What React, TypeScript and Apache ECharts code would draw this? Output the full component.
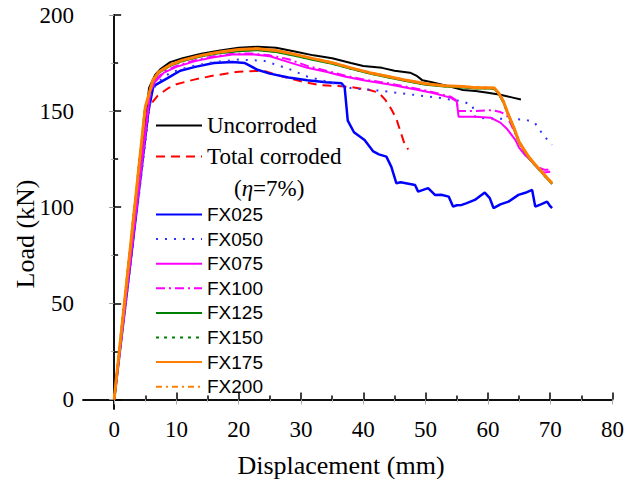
import React, { useEffect, useRef } from "react";
import * as echarts from "echarts";

const seriesNames = ["Uncorroded", "Total corroded", "FX025", "FX050", "FX075", "FX100", "FX125", "FX150", "FX175", "FX200"];
const xMajorTicks = [0, 10, 20, 30, 40, 50, 60, 70, 80];
const xMinorTicks = [5, 15, 25, 35, 45, 55, 65, 75];
const yMajorTicks = [0, 50, 100, 150, 200];
const yMinorTicks = [25, 75, 125, 175];

const uncorroded = [[0,0],[5.6,162],[6.6,169],[7.5,172],[9,175.5],[11,177.5],[14,179.8],[17,181.5],[20,183],[23,183.5],[26,183],[29,181],[32,179],[35,177.5],[38,175],[40,173.5],[43,172.5],[45,171],[47.5,170],[48.5,168.5],[49.5,166],[51,165],[53,163.5],[56,161],[58,160.5],[60,159.5],[62,158.5],[64,157],[65.3,156]];
const totalCorroded = [[0,0],[5.3,149],[6,154],[7,158],[8.7,162],[10,164],[13,166.5],[16,168.5],[20,170.5],[24,171],[27,168],[30,165.5],[33,163.5],[36,163],[38,162.5],[41,161],[42.5,159.5],[43.5,156],[44.5,151],[45.3,146],[46,139],[46.5,134],[47.2,130]];
const fx025 = [[0,0],[5.5,150],[6.3,163],[8.5,167],[10.6,171],[13,173],[16,175],[19,175.5],[21,175],[23,171.5],[25,169.5],[28,167.5],[31,166],[34,165],[36.5,164.5],[37,162.5],[37.5,145],[38.5,139],[40.2,135],[41.6,129],[42.5,127.5],[43.7,126.3],[44.5,121],[45.3,112.5],[46,113],[48.3,111.6],[48.8,108.1],[50.4,109.9],[51.5,106.4],[52.5,106.5],[53.7,105.5],[54.4,100.3],[55,101],[55.8,101.2],[56.5,102],[57.9,103.8],[59.5,107.6],[60.3,104.7],[60.9,99.5],[62,101.5],[63.3,102.9],[64.9,106.4],[66,107.5],[67.1,109],[67.6,100.3],[68.5,101.5],[69.5,102.9],[70,100.5],[70.3,99.5]];
const fx050 = [[0,0],[6,160],[7,165],[9,170],[12,173],[16,175.5],[20,176.8],[24,176.2],[28,172],[31,168],[34,165.5],[38,162],[43,160.5],[48,158.5],[52,157],[56,155],[57.5,153],[58,146.5],[62,146],[66,145.6],[67.5,144],[69,137],[70.3,132.5]];
const fx075 = [[0,0],[5.8,160],[6.5,165],[8,170],[10,173],[13,176],[16,178],[19,179.5],[22,179.6],[25,178.5],[28,175.5],[31,172.5],[34,170.5],[37,168],[40,166],[44,164],[48,161.5],[51,159.5],[54,157],[55,155],[55.3,147],[58,147],[60.5,146.5],[62,144],[63,141],[64.4,135],[65,131],[66,127],[67,124],[68.2,119.5],[69,118],[70,118.5]];
const fx100 = [[0,0],[5.8,161],[6.5,166],[8,170.5],[10,173.5],[13,176.5],[16,178.5],[19,179.8],[22,180],[25,179],[28,177],[31,173.5],[34,171],[37,168.5],[40,166.5],[44,164.5],[48,162],[51,160],[54,157.5],[55,155.5],[55.2,150],[58,150],[60.6,150.5],[62,149.5],[63,148],[64,141],[65,134],[66,128],[67,124],[68,121],[69,119.5],[70,119.5]];
const fx125 = [[0,0],[5,152],[6.2,165.5],[7.2,170],[9,173.5],[11,176],[14,178.5],[17,180.2],[20,181.2],[23,181.7],[26,180.8],[29,178.8],[32,176.6],[35,174.6],[38,172],[41,169.5],[44,167.5],[47,165.5],[50,163.7],[53,162.8],[56,162.3],[58,161.8],[60,161.8],[61,161.6],[61.7,159],[62.5,154.5],[63.3,147.5],[64.1,141.5],[65,133.5],[66,128.5],[66.6,125.5],[67.5,122],[68.4,119],[69.3,115.5],[70.3,112]];
const fx150 = [[0,0],[5,152],[6.2,165.8],[7.2,170.2],[9,173.8],[11,176.2],[14,178.8],[17,180.5],[20,181.5],[23,182],[26,181],[29,179],[32,176.9],[35,174.9],[38,172.2],[41,169.8],[44,167.8],[47,165.8],[50,164],[53,163],[56,162.5],[58,162],[60,162],[61,161.8],[61.7,159.2],[62.5,154.8],[63.3,147.8],[64.1,141.8],[65,133.8],[66,128.8],[66.6,125.8],[67.5,122.2],[68.4,119.2],[69.3,115.8],[70.3,112.3]];
const fx175 = [[0,0],[5,152],[6.2,166],[7.2,170.5],[9,174],[11,176.5],[14,179],[17,180.8],[20,182],[23,182.5],[26,181.5],[29,179.5],[32,177.3],[35,175.2],[38,172.5],[41,170],[44,168],[47,166],[50,164.2],[53,163.2],[56,162.8],[58,162.2],[60,162.2],[61,162],[61.7,159.5],[62.5,155],[63.3,148],[64.1,142],[65,134],[66,129],[66.6,126],[67.5,122.5],[68.4,119.4],[69.3,116],[70.3,112.5]];
const fx200 = [[0,0],[5,152],[6.2,166],[7.2,170.6],[9,174.1],[11,176.6],[14,179.1],[17,180.9],[20,182.1],[23,182.6],[26,181.6],[29,179.6],[32,177.4],[35,175.3],[38,172.6],[41,170.1],[44,168.1],[47,166.1],[50,164.3],[53,163.3],[56,162.9],[58,162.3],[60,162.3],[61,162.1],[61.7,159.6],[62.5,155.1],[63.3,148.1],[64.1,142.1],[65,134.1],[66,129.1],[66.6,126.1],[67.5,122.6],[68.4,119.5],[69.3,116.1],[70.3,112.6]];

const seriesData = [uncorroded, totalCorroded, fx025, fx050, fx075, fx100, fx125, fx150, fx175, fx200];

const SERIF = '"Liberation Serif", "Times New Roman", serif';
const SANS = '"Liberation Sans", Arial, sans-serif';

const lineStyles: any[] = [
  { color: "#000000", width: 2, type: "solid" },
  { color: "#ff0000", width: 2, type: [9, 6] },
  { color: "#0000ff", width: 2.5, type: "solid" },
  { color: "#3333ff", width: 2, type: [2, 7] },
  { color: "#ff00ff", width: 2, type: "solid" },
  { color: "#ff00ff", width: 2, type: [9, 4, 2, 4] },
  { color: "#008000", width: 2, type: "solid" },
  { color: "#008000", width: 2.5, type: [3, 5] },
  { color: "#ff8000", width: 3, type: "solid" },
  { color: "#ff8000", width: 2, type: [6, 4, 2, 4] },
];

export default function App() {
  const ref = useRef<HTMLDivElement>(null);
  useEffect(() => {
    if (!ref.current) return;
    const chart = echarts.init(ref.current, undefined, { renderer: "svg" });
    const xBase = { type: "value", min: -5, max: 80, gridIndex: 0, splitLine: { show: false } };
    const yBase = { type: "value", min: -5, max: 200, gridIndex: 0, splitLine: { show: false } };
    const axisLine = { show: true, lineStyle: { color: "#000", width: 1.5 } };
    const noLabel = { show: false };
    const legendItemStyle = { color: "transparent", borderWidth: 0, opacity: 0 };
    const option: any = {
      animation: false,
      backgroundColor: "#ffffff",
      grid: { left: 83, right: 14.5, top: 15, bottom: 70 },
      xAxis: [
        { ...xBase, position: "bottom", axisLine,
          axisTick: { show: true, inside: true, length: 7, customValues: xMajorTicks, lineStyle: { color: "#000", width: 1.5 } },
          axisLabel: { show: true, customValues: xMajorTicks, margin: 9, color: "#000", fontFamily: SERIF, fontSize: 23 } },
        { ...xBase, position: "bottom", axisLine: { show: false },
          axisTick: { show: true, inside: true, length: 4, customValues: xMinorTicks, lineStyle: { color: "#000", width: 1.5 } },
          axisLabel: noLabel },
        { ...xBase, position: "top", axisLine,
          axisTick: { show: true, inside: true, length: 5, customValues: xMajorTicks, lineStyle: { color: "#aaa", width: 1 } },
          axisLabel: noLabel },
        { ...xBase, position: "top", axisLine: { show: false },
          axisTick: { show: true, inside: true, length: 3, customValues: xMinorTicks, lineStyle: { color: "#bbb", width: 1 } },
          axisLabel: noLabel },
      ],
      yAxis: [
        { ...yBase, position: "left", axisLine,
          axisTick: { show: true, inside: true, length: 7, customValues: yMajorTicks, lineStyle: { color: "#000", width: 1.5 } },
          axisLabel: { show: true, customValues: yMajorTicks, margin: 9, color: "#000", fontFamily: SERIF, fontSize: 23 } },
        { ...yBase, position: "left", axisLine: { show: false },
          axisTick: { show: true, inside: true, length: 4, customValues: yMinorTicks, lineStyle: { color: "#000", width: 1.5 } },
          axisLabel: noLabel },
        { ...yBase, position: "right", axisLine,
          axisTick: { show: true, inside: true, length: 5, customValues: yMajorTicks, lineStyle: { color: "#999", width: 1 } },
          axisLabel: noLabel },
        { ...yBase, position: "right", axisLine: { show: false },
          axisTick: { show: true, inside: true, length: 3, customValues: yMinorTicks, lineStyle: { color: "#aaa", width: 1 } },
          axisLabel: noLabel },
      ],
      legend: [
        {
          data: seriesNames.slice(0, 2), orient: "vertical", left: 155, top: 114,
          itemWidth: 46, itemHeight: 14, itemGap: 8, padding: 0,
          itemStyle: legendItemStyle,
          textStyle: { fontFamily: SERIF, fontSize: 23, color: "#000" },
        },
        {
          data: seriesNames.slice(2), orient: "vertical", left: 155, top: 205,
          itemWidth: 46, itemHeight: 14, itemGap: 5.6, padding: 0,
          itemStyle: legendItemStyle,
          textStyle: { fontFamily: SANS, fontSize: 19, color: "#000" },
        },
      ],
      graphic: [
        { type: "text", left: 234, top: 177, style: {
            text: "{a|(}{b|η}{a|=7%)}",
            rich: {
              a: { fontFamily: SERIF, fontSize: 23, fill: "#000" },
              b: { fontFamily: SERIF, fontSize: 23, fontStyle: "italic", fill: "#000" },
            },
          } },
        { type: "text", x: 341, y: 465, style: { text: "Displacement (mm)", fontFamily: SERIF, fontSize: 26, fill: "#000", textAlign: "center", textVerticalAlign: "middle" } },
        { type: "text", x: 25, y: 234, rotation: Math.PI / 2, style: { text: "Load (kN)", fontFamily: SERIF, fontSize: 26, fill: "#000", textAlign: "center", textVerticalAlign: "middle" } },
      ],
      series: seriesNames.map((name, i) => ({
        name,
        type: "line",
        xAxisIndex: 0,
        yAxisIndex: 0,
        data: seriesData[i],
        showSymbol: false,
        symbol: "none",
        smooth: false,
        lineStyle: lineStyles[i],
        itemStyle: { color: lineStyles[i].color },
        z: 2 + i,
      })),
    };
    chart.setOption(option);
    return () => chart.dispose();
  }, []);
  return <div ref={ref} style={{ position: "fixed", left: 0, top: 0, width: 627, height: 479 }} />;
}
